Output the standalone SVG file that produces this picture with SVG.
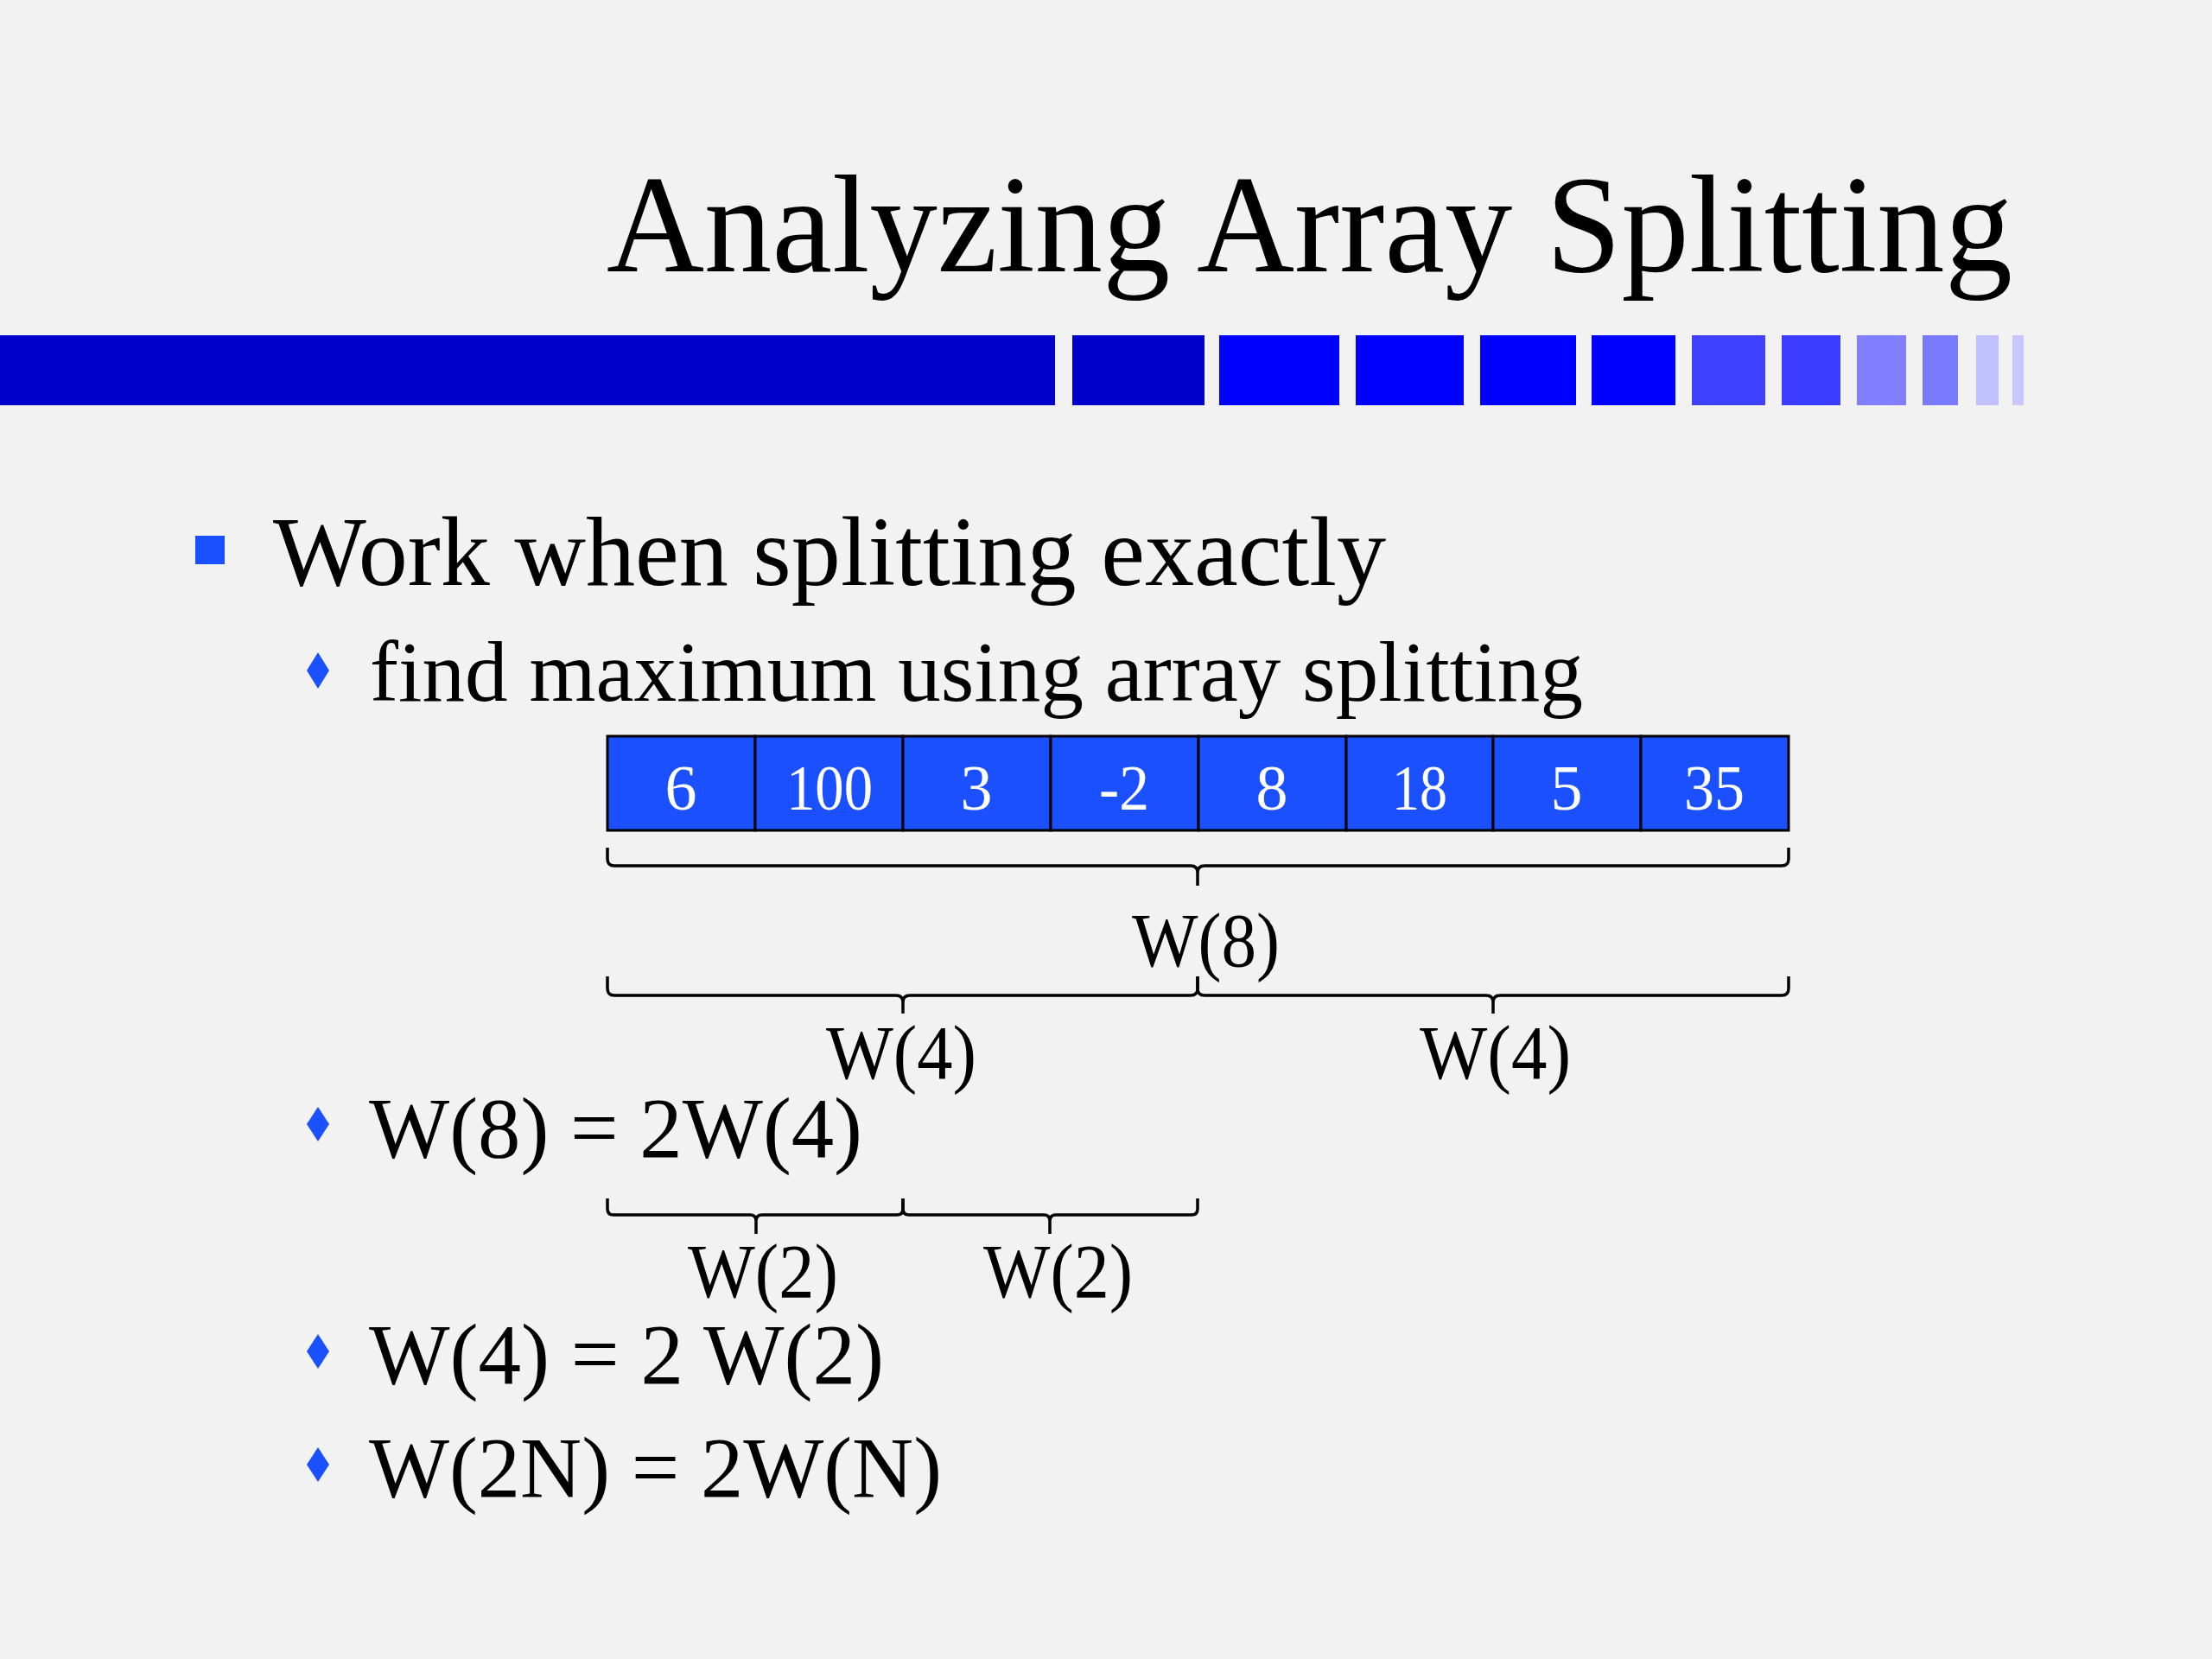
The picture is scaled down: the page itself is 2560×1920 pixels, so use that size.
<svg xmlns="http://www.w3.org/2000/svg" width="2560" height="1920" viewBox="0 0 2560 1920">
<style>
text{font-family:"Liberation Serif","Times New Roman",serif;fill:#000}
.num{fill:#fff;font-size:74px;text-anchor:middle}
.lbl{font-size:88px}
.l2{font-size:100px}
.cell{fill:#1a50ff;stroke:#000;stroke-width:3}
.brace{fill:none;stroke:#000;stroke-width:3.5;stroke-linejoin:round}
.blt{fill:#1a50ff}
</style>
<rect width="2560" height="1920" fill="#f2f2f2"/>
<g id="title"><text x="702" y="314" font-size="160" textLength="1627" lengthAdjust="spacingAndGlyphs">Analyzing Array Splitting</text></g>
<g id="bar">
<rect x="0" y="388" width="1221" height="81" fill="#0000cc"/>
<rect x="1241" y="388" width="153" height="81" fill="#0000cc"/>
<rect x="1411" y="388" width="139" height="81" fill="#0000ff"/>
<rect x="1569" y="388" width="125" height="81" fill="#0000ff"/>
<rect x="1713" y="388" width="111" height="81" fill="#0000ff"/>
<rect x="1842" y="388" width="97" height="81" fill="#0000ff"/>
<rect x="1958" y="388" width="85" height="81" fill="#4040ff"/>
<rect x="2062" y="388" width="68" height="81" fill="#3c3cff"/>
<rect x="2149" y="388" width="57" height="81" fill="#8080ff"/>
<rect x="2225" y="388" width="41" height="81" fill="#7a7aff"/>
<rect x="2287" y="388" width="26" height="81" fill="#c0c0ff"/>
<rect x="2329" y="388" width="13" height="81" fill="#c8c8ff"/>
</g>
<g id="bullet1"><rect class="blt" x="226" y="620" width="34" height="33"/><text x="316" y="677" font-size="115" textLength="1288" lengthAdjust="spacingAndGlyphs">Work when splitting exactly</text></g>
<g id="bullet2"><path class="blt" d="M368,755 L381,776 L368,797 L355,776 Z"/><text class="l2" x="428" y="811" textLength="1404" lengthAdjust="spacingAndGlyphs">find maximum using array splitting</text></g>
<g id="array">
<rect class="cell" x="703" y="852" width="171" height="109"/>
<rect class="cell" x="874" y="852" width="171" height="109"/>
<rect class="cell" x="1045" y="852" width="171" height="109"/>
<rect class="cell" x="1216" y="852" width="171" height="109"/>
<rect class="cell" x="1387" y="852" width="171" height="109"/>
<rect class="cell" x="1558" y="852" width="170" height="109"/>
<rect class="cell" x="1728" y="852" width="171" height="109"/>
<rect class="cell" x="1899" y="852" width="171" height="109"/>
<text class="num" x="788" y="937">6</text>
<text class="num" x="960" y="937" textLength="100" lengthAdjust="spacingAndGlyphs">100</text>
<text class="num" x="1130" y="937">3</text>
<text class="num" x="1301" y="937" textLength="58" lengthAdjust="spacingAndGlyphs">-2</text>
<text class="num" x="1472" y="937">8</text>
<text class="num" x="1643" y="937" textLength="64" lengthAdjust="spacingAndGlyphs">18</text>
<text class="num" x="1813" y="937">5</text>
<text class="num" x="1984" y="937" textLength="70" lengthAdjust="spacingAndGlyphs">35</text>
</g>
<g id="connectors">
<path class="brace" d="M703,981 L703,994 Q703,1002 711,1002 L1378,1002 Q1386,1002 1386,1010 L1386,1025 M1386,1010 Q1386,1002 1394,1002 L2062,1002 Q2070,1002 2070,994 L2070,981"/>
<path class="brace" d="M703,1130 L703,1144 Q703,1152 711,1152 L1037,1152 Q1045,1152 1045,1160 L1045,1173 M1045,1160 Q1045,1152 1053,1152 L1378,1152 Q1386,1152 1386,1144 L1386,1130"/>
<path class="brace" d="M1386,1130 L1386,1144 Q1386,1152 1394,1152 L1720,1152 Q1728,1152 1728,1160 L1728,1173 M1728,1160 Q1728,1152 1736,1152 L2062,1152 Q2070,1152 2070,1144 L2070,1130"/>
<path class="brace" d="M703,1387 L703,1399 Q703,1406 710,1406 L868,1406 Q875,1406 875,1413 L875,1428 M875,1413 Q875,1406 882,1406 L1038,1406 Q1045,1406 1045,1399 L1045,1387"/>
<path class="brace" d="M1045,1387 L1045,1399 Q1045,1406 1052,1406 L1208,1406 Q1215,1406 1215,1413 L1215,1428 M1215,1413 Q1215,1406 1222,1406 L1379,1406 Q1386,1406 1386,1399 L1386,1387"/>
</g>
<g id="label-w8"><text class="lbl" x="1310" y="1118" textLength="171" lengthAdjust="spacingAndGlyphs">W(8)</text></g>
<g id="label-w4-left"><text class="lbl" x="956" y="1248" textLength="174" lengthAdjust="spacingAndGlyphs">W(4)</text></g>
<g id="label-w4-right"><text class="lbl" x="1643" y="1248" textLength="175" lengthAdjust="spacingAndGlyphs">W(4)</text></g>
<g id="bullet3"><path class="blt" d="M368,1281 L381,1301 L368,1321 L355,1301 Z"/><text class="l2" x="427" y="1339" textLength="571" lengthAdjust="spacingAndGlyphs">W(8) = 2W(4)</text></g>
<g id="label-w2-left"><text class="lbl" x="796" y="1501" textLength="174" lengthAdjust="spacingAndGlyphs">W(2)</text></g>
<g id="label-w2-right"><text class="lbl" x="1138" y="1501" textLength="173" lengthAdjust="spacingAndGlyphs">W(2)</text></g>
<g id="bullet4"><path class="blt" d="M368,1544 L381,1564 L368,1584 L355,1564 Z"/><text class="l2" x="427" y="1601" textLength="596" lengthAdjust="spacingAndGlyphs">W(4) = 2 W(2)</text></g>
<g id="bullet5"><path class="blt" d="M368,1675 L381,1695 L368,1715 L355,1695 Z"/><text class="l2" x="427" y="1732" textLength="663" lengthAdjust="spacingAndGlyphs">W(2N) = 2W(N)</text></g>
</svg>
